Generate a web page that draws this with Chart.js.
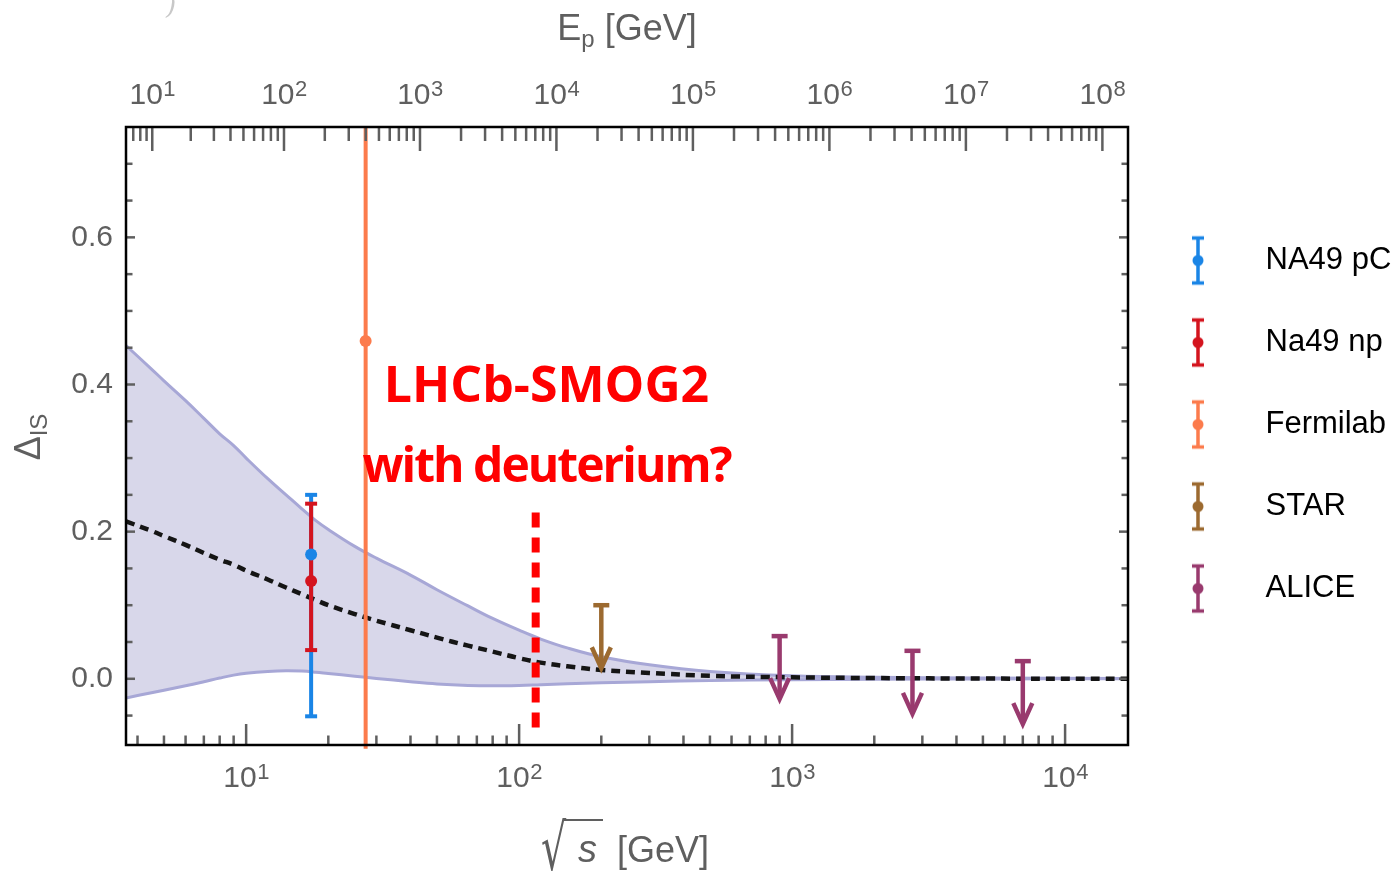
<!DOCTYPE html>
<html>
<head>
<meta charset="utf-8">
<script src="https://cdn.jsdelivr.net/npm/chart.js@4.4.0/dist/chart.umd.min.js"></script>
<style>
  html, body { margin: 0; padding: 0; background: #fff; }
</style>
</head>
<body>
<canvas id="isChart" width="1399" height="878"></canvas>
<script>
// ---------- model band (sqrt(s) in GeV) ----------
const sqrtS     = [3.63, 4.5, 5, 6, 7, 8, 9, 10, 12, 14, 16, 18, 20, 25, 30, 40, 50, 65, 80, 100, 120, 150, 200, 300, 500, 1000, 2000, 5000, 17000];
const bandUpper = [0.453, 0.421, 0.405, 0.378, 0.354, 0.333, 0.317, 0.300, 0.272, 0.250, 0.231, 0.215, 0.203, 0.180, 0.164, 0.141, 0.121, 0.099, 0.082, 0.066, 0.054, 0.042, 0.030, 0.019, 0.010, 0.004, 0.002, 0.001, 0.0005];
const bandLower = [-0.026, -0.019, -0.0155, -0.0095, -0.004, 0.001, 0.005, 0.0075, 0.010, 0.011, 0.0105, 0.009, 0.0072, 0.0035, 0.0005, -0.004, -0.007, -0.009, -0.0095, -0.009, -0.008, -0.0068, -0.0055, -0.004, -0.0025, -0.0012, -0.0006, -0.0002, 0];
const central   = [0.214, 0.201, 0.194, 0.182, 0.171, 0.162, 0.155, 0.147, 0.135, 0.124, 0.115, 0.107, 0.100, 0.088, 0.079, 0.066, 0.056, 0.045, 0.037, 0.028, 0.022, 0.017, 0.012, 0.008, 0.004, 0.002, 0.001, 0.0003, 0];

// ---------- measurements ----------
const na49pcX = [17.3], na49pcY = [0.169], na49pcLo = [-0.051], na49pcHi = [0.25];
const na49npX = [17.3], na49npY = [0.133], na49npLo = [0.039], na49npHi = [0.238];
const fermilabX = [27.4], fermilabY = [0.459], fermilabLo = [-0.095], fermilabHi = [0.95];
const starX = [200], starLimit = [0.100];
const aliceX = [900, 2760, 7000], aliceLimit = [0.058, 0.038, 0.024];
const smogX = [115, 115], smogY = [0.226, -0.074];

const expNames = ["NA49 pC", "Na49 np", "Fermilab", "STAR", "ALICE"];
const expColors = ["#1a85e6", "#d4141e", "#fc7b4c", "#9c6a30", "#993a6e"];

// ---------- axes ----------
const xRange = [3.63, 17000];
const yRange = [-0.09, 0.75];
const yTickValues = [-0.05, 0, 0.05, 0.1, 0.15, 0.2, 0.25, 0.3, 0.35, 0.4, 0.45, 0.5, 0.55, 0.6, 0.65, 0.7];
const sqrtSDecades = [0, 1, 2, 3, 4];
const epDecades = [0, 1, 2, 3, 4, 5, 6, 7, 8];
const protonMass = 0.938;

const fontFamily = "'Liberation Sans', Arial, sans-serif";
const tickGray = "#5f5f5f";
const bandFill = "#d8d7ea";
const bandEdge = "#a7a7d6";

const pts = (xs, ys) => xs.map((x, i) => ({ x: x, y: ys[i] }));

// sqrt(s) for a fixed-target beam energy, used to place the top axis ticks
const epToSqrtS = e => Math.sqrt(2 * protonMass * e + 2 * protonMass * protonMass);

function errorIcon(color) {
  const c = document.createElement("canvas");
  c.width = 71; c.height = 52;
  const g = c.getContext("2d");
  const cx = 19;
  g.strokeStyle = color; g.fillStyle = color; g.lineWidth = 3.5;
  g.beginPath();
  g.moveTo(cx, 2); g.lineTo(cx, 50);
  g.moveTo(cx - 6, 3.5); g.lineTo(cx + 6, 3.5);
  g.moveTo(cx - 6, 48.5); g.lineTo(cx + 6, 48.5);
  g.stroke();
  g.beginPath(); g.arc(cx, 26, 5.5, 0, Math.PI * 2); g.fill();
  return c;
}
const legendIcons = expColors.map(errorIcon);

// ---------- plugins ----------
function seg(ctx, x1, y1, x2, y2) {
  ctx.beginPath(); ctx.moveTo(x1, y1); ctx.lineTo(x2, y2); ctx.stroke();
}

// "10" with a raised exponent, centred on px
function powLabel(ctx, px, baseline, exp) {
  ctx.font = "30px " + fontFamily; const wb = ctx.measureText("10").width;
  ctx.font = "22px " + fontFamily; const we = ctx.measureText(String(exp)).width;
  const x0 = px - (wb + we) / 2;
  ctx.font = "30px " + fontFamily; ctx.fillText("10", x0, baseline);
  ctx.font = "22px " + fontFamily; ctx.fillText(String(exp), x0 + wb + 0.5, baseline - 8.5);
}

// error bars and upper-limit arrows, drawn over the lines but under the dots
const errorBars = {
  id: "errorBars",
  afterDatasetDraw(chart, args) {
    if (!chart.data.datasets[args.index].barsAfter) return;
    const { ctx, chartArea: a, scales: { x, y } } = chart;
    ctx.save();
    ctx.beginPath(); ctx.rect(a.left, a.top, a.width, a.height + 12); ctx.clip();
    chart.data.datasets.forEach(ds => {
      if (!ds.errLo && !ds.limit) return;
      ctx.strokeStyle = ds.borderColor; ctx.lineWidth = 4; ctx.lineJoin = "miter";
      ds.data.forEach((p, i) => {
        const px = x.getPixelForValue(p.x);
        if (ds.errLo) {
          const yt = y.getPixelForValue(ds.errHi[i]);
          const yb = y.getPixelForValue(ds.errLo[i]);
          seg(ctx, px, yt, px, yb);
          if (yt > a.top + 2) seg(ctx, px - 6, yt, px + 6, yt);
          if (yb < a.bottom - 2) seg(ctx, px - 6, yb, px + 6, yb);
        } else {
          ctx.lineWidth = 4.5;
          const yt = y.getPixelForValue(p.y);
          const tip = yt + 63;
          seg(ctx, px, yt, px, tip - 2);
          seg(ctx, px - 8, yt, px + 8, yt);
          ctx.beginPath();
          ctx.moveTo(px - 9.5, tip - 21); ctx.lineTo(px, tip); ctx.lineTo(px + 9.5, tip - 21);
          ctx.stroke();
        }
      });
    });
    ctx.restore();
  }
};

// frame, inward ticks, axis labels/titles and the annotation
const decor = {
  id: "decor",
  afterDraw(chart) {
    const { ctx, chartArea: a, scales } = chart;
    ctx.save();
    ctx.strokeStyle = tickGray; ctx.lineWidth = 2.5;
    scales.x.ticks.forEach(t => {
      const px = scales.x.getPixelForValue(t.value);
      seg(ctx, px, a.bottom, px, a.bottom - (t.big ? 21 : 9.5));
    });
    scales.x2.ticks.forEach(t => {
      const px = scales.x2.getPixelForValue(t.value);
      seg(ctx, px, a.top, px, a.top + (t.big ? 24 : 14));
    });
    scales.y.ticks.forEach(t => {
      const py = scales.y.getPixelForValue(t.value);
      const len = t.big ? 9 : 6.5;
      seg(ctx, a.left, py, a.left + len, py);
      seg(ctx, a.right, py, a.right - len, py);
    });
    ctx.strokeStyle = "#000"; ctx.lineWidth = 2.5;
    ctx.strokeRect(a.left, a.top, a.right - a.left, a.bottom - a.top);

    // decade labels
    ctx.fillStyle = tickGray; ctx.textBaseline = "alphabetic"; ctx.textAlign = "left";
    scales.x.ticks.forEach(t => {
      if (t.big) powLabel(ctx, scales.x.getPixelForValue(t.value), 787, Math.round(Math.log10(t.value)));
    });
    scales.x2.ticks.forEach(t => {
      if (t.big) powLabel(ctx, scales.x2.getPixelForValue(t.value), 104, Math.round(Math.log10(t.ep)));
    });

    // axis titles
    const cx = (a.left + a.right) / 2;
    const big = "36px " + fontFamily, small = "24px " + fontFamily;
    ctx.font = big; const wE = ctx.measureText("E").width, wG = ctx.measureText(" [GeV]").width;
    ctx.font = small; const wp = ctx.measureText("p").width;
    const x0 = cx - (wE + wp + wG) / 2;
    ctx.font = big; ctx.fillText("E", x0, 40);
    ctx.font = small; ctx.fillText("p", x0 + wE, 47);
    ctx.font = big; ctx.fillText(" [GeV]", x0 + wE + wp, 40);

    ctx.save();
    ctx.translate(541, 870); ctx.scale(0.9, 1.45);
    ctx.font = "44px 'DejaVu Sans'"; ctx.fillText("√", 0, 0);
    const wr = ctx.measureText("√").width;
    ctx.restore();
    ctx.font = "italic 38px " + fontFamily; ctx.fillText("s", 578, 862);
    ctx.lineWidth = 2; ctx.strokeStyle = tickGray;
    seg(ctx, 541 + wr * 0.9 - 3, 820, 603, 820);
    ctx.font = big; ctx.fillText("[GeV]", 617, 862);

    ctx.save();
    ctx.translate(40, 437); ctx.rotate(-Math.PI / 2);
    ctx.font = big; const wD = ctx.measureText("Δ").width;
    ctx.font = small; const wIS = ctx.measureText("IS").width;
    const s0 = -(wD + wIS) / 2;
    ctx.font = big; ctx.fillText("Δ", s0, 0);
    ctx.font = small; ctx.fillText("IS", s0 + wD, 7);
    ctx.restore();

    // clipped panel label remnant
    ctx.fillStyle = "#c8c8c8"; ctx.font = "italic 26px 'DejaVu Serif'";
    ctx.fillText(")", 166, 14);

    // annotation
    ctx.fillStyle = "#ff0000"; ctx.textAlign = "center";
    const ax = scales.x.getPixelForValue(126);
    ctx.font = "bold 50px 'Open Sans', sans-serif";
    ctx.fillText("LHCb-SMOG2", ax, scales.y.getPixelForValue(0.376));
    ctx.font = "bold 48px 'Open Sans', sans-serif";
    ctx.letterSpacing = "-2px";
    ctx.fillText("with deuterium?", ax, scales.y.getPixelForValue(0.267));
    ctx.letterSpacing = "0px";
    ctx.restore();
  }
};

// ---------- chart ----------
const lineDefaults = { showLine: true, pointRadius: 0, tension: 0.4, fill: false };

new Chart(document.getElementById("isChart"), {
  type: "scatter",
  data: {
    datasets: [
      { label: expNames[0], data: pts(na49pcX, na49pcY), errLo: na49pcLo, errHi: na49pcHi,
        backgroundColor: expColors[0], borderColor: expColors[0], pointRadius: 6, borderWidth: 0, order: 1 },
      { label: expNames[1], data: pts(na49npX, na49npY), errLo: na49npLo, errHi: na49npHi,
        backgroundColor: expColors[1], borderColor: expColors[1], pointRadius: 6, borderWidth: 0, order: 1 },
      { label: expNames[2], data: pts(fermilabX, fermilabY), errLo: fermilabLo, errHi: fermilabHi,
        backgroundColor: expColors[2], borderColor: expColors[2], pointRadius: 6, borderWidth: 0, order: 1 },
      { label: expNames[3], data: pts(starX, starLimit), limit: true,
        backgroundColor: expColors[3], borderColor: expColors[3], pointRadius: 0, order: 1 },
      { label: expNames[4], data: pts(aliceX, aliceLimit), limit: true,
        backgroundColor: expColors[4], borderColor: expColors[4], pointRadius: 0, order: 1 },
      { ...lineDefaults, label: "smog", data: pts(smogX, smogY), borderColor: "#ff0000",
        borderWidth: 8, borderDash: [15, 10], tension: 0, order: 2, barsAfter: true },
      { ...lineDefaults, label: "central", data: pts(sqrtS, central), borderColor: "#151515",
        borderWidth: 4.5, borderDash: [9, 6], order: 3 },
      { ...lineDefaults, label: "lower", data: pts(sqrtS, bandLower), borderColor: bandEdge,
        borderWidth: 3, order: 4 },
      { ...lineDefaults, label: "upper", data: pts(sqrtS, bandUpper), borderColor: bandEdge,
        backgroundColor: bandFill, borderWidth: 3, fill: "-1", order: 5 }
    ]
  },
  options: {
    responsive: false,
    animation: false,
    layout: { padding: 0 },
    plugins: {
      tooltip: { enabled: false },
      legend: {
        position: "right",
        align: "start",
        maxWidth: 271,
        title: { display: true, text: " ", font: { size: 10 }, padding: { top: 91, bottom: 91 } },
        labels: {
          usePointStyle: true,
          pointStyleWidth: 71,
          padding: 51,
          color: "#000",
          font: { family: fontFamily, size: 31 },
          generateLabels: () => expNames.map((name, i) => ({
            text: name, pointStyle: legendIcons[i], fillStyle: expColors[i],
            strokeStyle: expColors[i], lineWidth: 0, hidden: false, datasetIndex: i, fontColor: "#000"
          }))
        }
      }
    },
    scales: {
      x: {
        type: "logarithmic", position: "bottom", min: xRange[0], max: xRange[1],
        afterBuildTicks: s => {
          const t = [];
          sqrtSDecades.forEach(k => {
            for (let j = 1; j <= 9; j++) {
              const v = j * Math.pow(10, k);
              if (v >= xRange[0] && v <= xRange[1]) t.push({ value: v, big: j === 1 });
            }
          });
          s.ticks = t;
        },
        afterFit: s => { s.height = 133; },
        grid: { display: false, drawTicks: false },
        border: { display: false },
        ticks: { display: false, autoSkip: false }
      },
      x2: {
        type: "logarithmic", position: "top", min: xRange[0], max: xRange[1],
        afterBuildTicks: s => {
          const t = [];
          epDecades.forEach(k => {
            for (let j = 1; j <= 9; j++) {
              const e = j * Math.pow(10, k);
              const v = epToSqrtS(e);
              if (v >= xRange[0] && v <= xRange[1]) t.push({ value: v, big: j === 1, ep: e });
            }
          });
          s.ticks = t;
        },
        afterFit: s => { s.height = 127; },
        grid: { display: false, drawTicks: false },
        border: { display: false },
        ticks: { display: false, autoSkip: false }
      },
      y: {
        type: "linear", position: "left", min: yRange[0], max: yRange[1],
        afterBuildTicks: s => {
          s.ticks = yTickValues.map(v => ({ value: v, big: Math.abs(v * 5 - Math.round(v * 5)) < 1e-9 }));
        },
        afterFit: s => { s.width = 126; },
        grid: { display: false, drawTicks: false },
        border: { display: false },
        ticks: {
          autoSkip: false, padding: 13, color: tickGray,
          font: { family: fontFamily, size: 30 },
          callback: v => Math.abs(v * 5 - Math.round(v * 5)) < 1e-9 ? (Math.round(v * 10) / 10).toFixed(1) : ""
        }
      }
    }
  },
  plugins: [errorBars, decor]
});
</script>
</body>
</html>
